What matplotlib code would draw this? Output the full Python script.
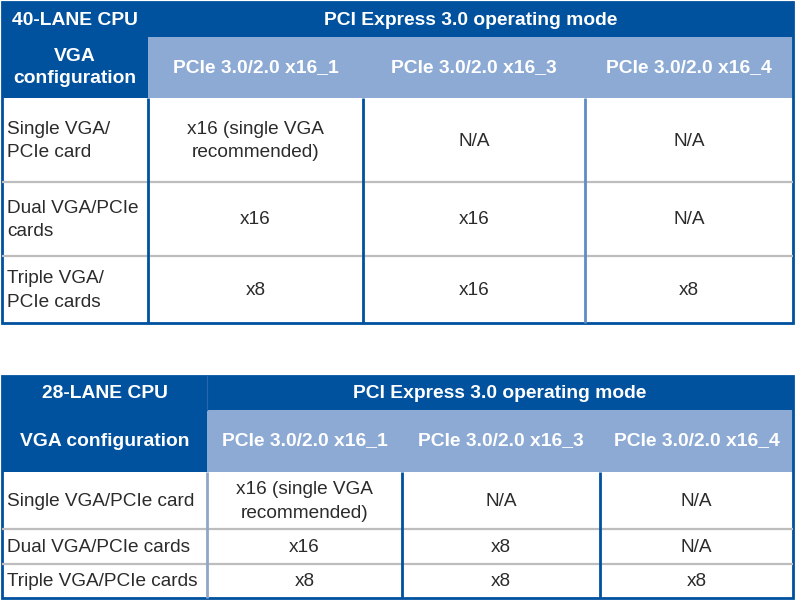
import matplotlib
matplotlib.use("Agg")
import matplotlib.pyplot as plt
from matplotlib.patches import Rectangle

# ---- table contents ----
slot_headers = ["PCIe 3.0/2.0 x16_1", "PCIe 3.0/2.0 x16_3", "PCIe 3.0/2.0 x16_4"]
span_header = "PCI Express 3.0 operating mode"

cpu40_title = "40-LANE CPU"
cpu40_corner = "VGA\nconfiguration"
cpu40_rows = ["Single VGA/\nPCIe card", "Dual VGA/PCIe\ncards", "Triple VGA/\nPCIe cards"]
cpu40_values = [
    ["x16 (single VGA\nrecommended)", "N/A", "N/A"],
    ["x16", "x16", "N/A"],
    ["x8", "x16", "x8"],
]

cpu28_title = "28-LANE CPU"
cpu28_corner = "VGA configuration"
cpu28_rows = ["Single VGA/PCIe card", "Dual VGA/PCIe cards", "Triple VGA/PCIe cards"]
cpu28_values = [
    ["x16 (single VGA\nrecommended)", "N/A", "N/A"],
    ["x16", "x8", "N/A"],
    ["x8", "x8", "x8"],
]

# ---- styling ----
DARK = "#00519E"
LIGHT = "#8CAAD3"
GRID = "#BDBDBD"
TEXT = "#2B2B2B"
HEAD_FONT = ["Liberation Sans", "DejaVu Sans"]
BODY_FONT = ["Liberation Sans", "DejaVu Sans"]
HEAD_SIZE = 13.9
BODY_SIZE = 13.7


def draw_table(ax, top, col_edges, head_h, row_edges, title, corner, rows, values,
               vline_colors, head_lines):
    left, right = col_edges[0], col_edges[-1]
    bottom = row_edges[-1]
    h1, h2 = head_h
    # header backgrounds
    ax.add_patch(Rectangle((left, top), right - left, h1, color=DARK, lw=0))
    ax.add_patch(Rectangle((left, top + h1), col_edges[1] - left, h2, color=DARK, lw=0))
    ax.add_patch(Rectangle((col_edges[1], top + h1), right - col_edges[1], h2, color=LIGHT, lw=0))
    for x in head_lines:
        ax.plot([x, x], [top, top + h1], color="#2A66AA", lw=0.8)

    ax.text((left + col_edges[1]) / 2, top + h1 / 2 + 1, title, ha="center", va="center",
            color="white", fontsize=HEAD_SIZE, fontweight="bold", family=HEAD_FONT)
    ax.text((col_edges[1] + right) / 2, top + h1 / 2 + 1, span_header, ha="center", va="center",
            color="white", fontsize=HEAD_SIZE, fontweight="bold", family=HEAD_FONT)
    ax.text((left + col_edges[1]) / 2, top + h1 + h2 / 2, corner, ha="center", va="center",
            color="white", fontsize=HEAD_SIZE, fontweight="bold", family=HEAD_FONT, linespacing=1.45)
    for j, label in enumerate(slot_headers):
        cx = (col_edges[j + 1] + col_edges[j + 2]) / 2
        ax.text(cx, top + h1 + h2 / 2, label, ha="center", va="center",
                color="white", fontsize=HEAD_SIZE, fontweight="bold", family=HEAD_FONT)

    # body rows
    y0 = top + h1 + h2
    edges = [y0] + row_edges
    for i, (name, vals) in enumerate(zip(rows, values)):
        cy = (edges[i] + edges[i + 1]) / 2 + 1
        ax.text(left + 5, cy, name, ha="left", va="center", color=TEXT,
                fontsize=BODY_SIZE, family=BODY_FONT, linespacing=1.5)
        for j, v in enumerate(vals):
            cx = (col_edges[j + 1] + col_edges[j + 2]) / 2
            ax.text(cx, cy, v, ha="center", va="center", color=TEXT,
                    fontsize=BODY_SIZE, family=BODY_FONT, linespacing=1.5)
        if i < len(rows) - 1:
            ax.plot([left, right], [edges[i + 1]] * 2, color=GRID, lw=1.6, solid_capstyle="butt")

    # vertical dividers in the body
    for x, c in zip(col_edges[1:-1], vline_colors):
        ax.plot([x, x], [y0, bottom], color=c, lw=2, solid_capstyle="butt")

    # outer border
    ax.add_patch(Rectangle((left, top), right - left, bottom - top, fill=False,
                           edgecolor=DARK, lw=2))


fig = plt.figure(figsize=(7.98, 6.02), dpi=100)
ax = fig.add_axes([0, 0, 1, 1])
ax.set_xlim(0, 798)
ax.set_ylim(602, 0)
ax.axis("off")

draw_table(ax, 2, [2, 148, 363, 585, 793], (35, 61), [182, 256, 323],
           cpu40_title, cpu40_corner, cpu40_rows, cpu40_values,
           [DARK, DARK, "#5F8CC4"], [])
draw_table(ax, 376, [2, 207, 402, 600, 793], (34, 62), [529, 564, 598],
           cpu28_title, cpu28_corner, cpu28_rows, cpu28_values,
           ["#8FA6C6", DARK, DARK], [207])

fig.savefig("out.png", dpi=100)
